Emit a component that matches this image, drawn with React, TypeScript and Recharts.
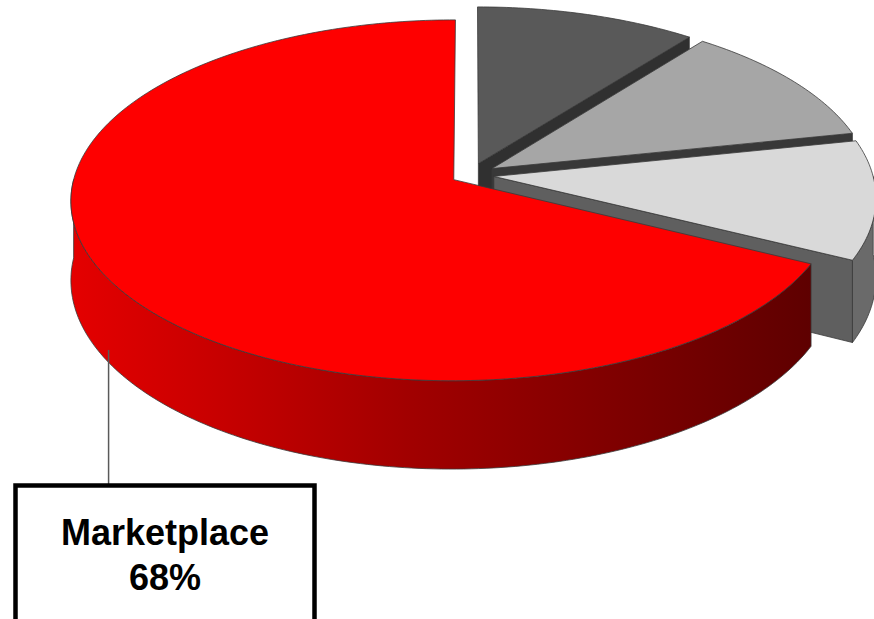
import React from "react";
import { PieChart, Pie } from "recharts";

// slices listed clockwise from 12 o'clock (back to front for painting)
const categories = ["Segment D", "Segment C", "Segment B", "Marketplace"];
const shares = [10.5, 11.2, 10.7, 67.6];

const topColors = ["#595959", "#a6a6a6", "#d9d9d9", "#fe0000"];
const sideColors = ["#333333", "#3c3c3c", "#6a6a6a", "url(#marketSide)"];
const cutColors = ["#303030", "#383838", "#5f5f5f", "#8c0000"];
const explode = [26, 26, 24, 19];

const data = categories.map((name, i) => ({ name, value: shares[i] }));

const W = 874;
const H = 619;
const CX = 470;
const CY = 175;
const R = 379;
const K = 177; // vertical radius of the tilted disc
const U = 0.114; // perspective strength
const DEPTH = 78;
const STROKE = "#3a3a3a";
const RAD = Math.PI / 180;

type Pt = [number, number];

function project(cx: number, cy: number, X: number, Y: number, Z: number): Pt {
  const q = Y / R;
  const w = 1 + U * q;
  return [cx + X / w, cy - (K * q) / w + Z / w];
}

function geom(props: any) {
  const { cx, cy, startAngle, endAngle, outerRadius, index } = props;
  const lo = Math.min(startAngle, endAngle);
  const hi = Math.max(startAngle, endAngle);
  const mid = (lo + hi) / 2;
  const ox = explode[index] * Math.cos(mid * RAD);
  const oy = explode[index] * Math.sin(mid * RAD);
  const rim = (deg: number, z: number) =>
    project(cx, cy, ox + outerRadius * Math.cos(deg * RAD), oy + outerRadius * Math.sin(deg * RAD), z);
  const apex = (z: number) => project(cx, cy, ox, oy, z);
  return { lo, hi, mid, rim, apex };
}

function arc(rim: (d: number, z: number) => Pt, a: number, b: number, z: number): Pt[] {
  const n = Math.max(2, Math.ceil(Math.abs(b - a)));
  const pts: Pt[] = [];
  for (let i = 0; i <= n; i++) pts.push(rim(a + ((b - a) * i) / n, z));
  return pts;
}

const toPath = (pts: Pt[]) =>
  "M" + pts.map((p) => p[0].toFixed(2) + "," + p[1].toFixed(2)).join("L") + "Z";

const renderWalls = (props: any) => {
  const i = props.index;
  const g = geom(props);
  const faces: React.ReactNode[] = [];

  // radial cut faces turned toward the viewer
  const cut = (deg: number, key: string) =>
    faces.push(
      <path
        key={key}
        d={toPath([g.apex(0), g.rim(deg, 0), g.rim(deg, DEPTH), g.apex(DEPTH)])}
        fill={cutColors[i]}
        stroke={STROKE}
        strokeWidth={0.8}
        strokeLinejoin="round"
      />
    );
  if (Math.cos(g.lo * RAD) > 0.001) cut(g.lo, "c0");
  if (Math.cos(g.hi * RAD) < -0.001) cut(g.hi, "c1");

  // outer wall on the front half
  for (let k = -1; k <= 1; k++) {
    const a = Math.max(g.lo, k * 360 - 180);
    const b = Math.min(g.hi, k * 360);
    if (b - a > 0.01) {
      const pts = [...arc(g.rim, a, b, 0), ...arc(g.rim, b, a, DEPTH)];
      faces.push(
        <path key={"o" + k} d={toPath(pts)} fill={sideColors[i]} stroke={STROKE} strokeWidth={0.8} strokeLinejoin="round" />
      );
    }
  }

  let defs = null;
  if (i === categories.length - 1) {
    const x1 = g.rim(180, 0)[0];
    const x2 = g.rim(g.hi, 0)[0];
    defs = (
      <defs>
        <linearGradient id="marketSide" gradientUnits="userSpaceOnUse" x1={x1} y1={0} x2={x2} y2={0}>
          <stop offset="0%" stopColor="#e40000" />
          <stop offset="45%" stopColor="#a20000" />
          <stop offset="100%" stopColor="#5e0000" />
        </linearGradient>
      </defs>
    );
  }
  return (
    <g key={"w" + i}>
      {defs}
      {faces}
    </g>
  );
};

const renderTops = (props: any) => {
  const i = props.index;
  const g = geom(props);
  const top = (
    <path
      d={toPath([g.apex(0), ...arc(g.rim, g.lo, g.hi, 0)])}
      fill={topColors[i]}
      stroke={STROKE}
      strokeWidth={0.8}
      strokeLinejoin="round"
    />
  );
  if (i !== categories.length - 1) return <g key={"t" + i}>{top}</g>;

  // callout for the main slice
  const [lx, ly] = g.rim(g.mid, DEPTH * 0.85);
  const boxX = 15.5;
  const boxY = 485.5;
  const boxW = 299;
  const font = "'Liberation Sans', Arial, sans-serif";
  return (
    <g key={"t" + i}>
      {top}
      <line x1={lx} y1={ly} x2={lx} y2={boxY} stroke="#595959" strokeWidth={1.5} />
      <rect x={boxX} y={boxY} width={boxW} height={200} fill="#ffffff" stroke="#000000" strokeWidth={4.5} />
      <text x={boxX + boxW / 2} y={545} textAnchor="middle" fontFamily={font} fontWeight="bold" fontSize={36} fill="#000">
        {props.name}
      </text>
      <text x={boxX + boxW / 2} y={590} textAnchor="middle" fontFamily={font} fontWeight="bold" fontSize={36} fill="#000">
        {Math.round(props.percent * 100)}%
      </text>
    </g>
  );
};

export default function App() {
  return (
    <div style={{ position: "absolute", left: 0, top: 0, width: W, height: H, background: "#fff", overflow: "hidden" }}>
      <PieChart width={W} height={H} margin={{ top: 0, right: 0, bottom: 0, left: 0 }}>
        <Pie
          data={data}
          dataKey="value"
          nameKey="name"
          cx={CX}
          cy={CY}
          outerRadius={R}
          startAngle={90}
          endAngle={-270}
          fill="none"
          stroke="none"
          legendType="none"
          label={renderWalls}
          labelLine={false}
          isAnimationActive={false}
        />
        <Pie
          data={data}
          dataKey="value"
          nameKey="name"
          cx={CX}
          cy={CY}
          outerRadius={R}
          startAngle={90}
          endAngle={-270}
          fill="none"
          stroke="none"
          legendType="none"
          label={renderTops}
          labelLine={false}
          isAnimationActive={false}
        />
      </PieChart>
    </div>
  );
}
